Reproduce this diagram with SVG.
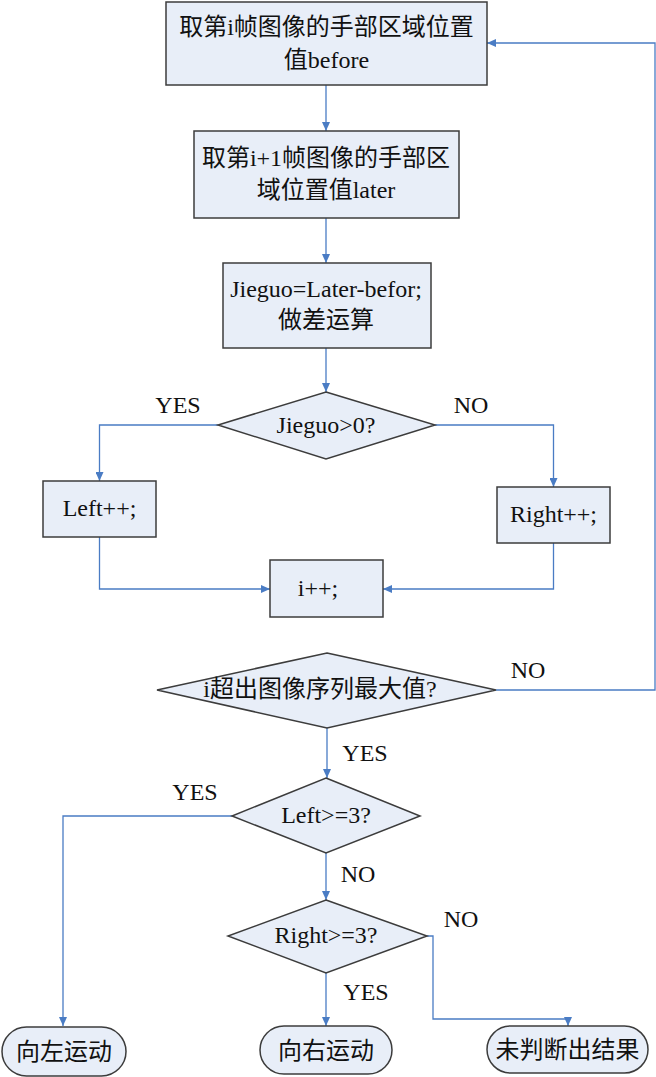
<svg xmlns="http://www.w3.org/2000/svg" width="656" height="1077" viewBox="0 0 656 1077">
<defs>
<marker id="arr" markerUnits="userSpaceOnUse" markerWidth="10" markerHeight="8" refX="9" refY="4" orient="auto">
<path d="M0,0 L9,4 L0,8 z" fill="#4A7CC4"/>
</marker>
<style>
.n{fill:#E8EEF8;stroke:#3C3C3C;stroke-width:1.5}
.t{font-family:"Liberation Serif","Noto Sans CJK SC",serif;font-size:24px;fill:#111;text-anchor:middle}
.c{fill:none;stroke:#4A7CC4;stroke-width:1.3;marker-end:url(#arr)}
.l{fill:none;stroke:#4A7CC4;stroke-width:1.3}
</style>
</defs>
<rect width="656" height="1077" fill="#fff"/>
<g id="connectors">
<path class="c" d="M326,85 V131"/>
<path class="c" d="M326,218 V263"/>
<path class="c" d="M326,348 V392"/>
<path class="c" d="M218,425 H99.5 V481"/>
<path class="c" d="M435,425 H553.5 V487"/>
<path class="c" d="M99.5,537 V589 H270"/>
<path class="c" d="M553.5,543 V589 H383"/>
<path class="c" d="M496,690 H655 V43 H487"/>
<path class="c" d="M327,728 V778"/>
<path class="c" d="M232,816 H63 V1026"/>
<path class="c" d="M326,853 V900"/>
<path class="c" d="M427,936 H433 V1019 H568 V1026"/>
<path class="c" d="M326,973 V1026"/>
</g>
<g id="box1"><rect class="n" x="166" y="2" width="321" height="83"/>
<text class="t" x="326.5" y="35">取第i帧图像的手部区域位置</text><text class="t" x="326.5" y="68">值before</text></g>
<g id="box2"><rect class="n" x="194" y="131" width="265" height="87"/>
<text class="t" x="326" y="166">取第i+1帧图像的手部区</text><text class="t" x="326" y="198">域位置值later</text></g>
<g id="box3"><rect class="n" x="223" y="263" width="208" height="85"/>
<text class="t" x="326" y="297">Jieguo=Later-befor;</text><text class="t" x="326" y="328">做差运算</text></g>
<g id="dec1"><polygon class="n" points="326,392 435,425 326,459 218,425"/>
<text class="t" x="326" y="433">Jieguo&gt;0?</text></g>
<g id="left"><rect class="n" x="43" y="481" width="113" height="56"/>
<text class="t" x="99.5" y="516">Left++;</text></g>
<g id="right"><rect class="n" x="497" y="487" width="113" height="56"/>
<text class="t" x="553.5" y="522">Right++;</text></g>
<g id="inc"><rect class="n" x="270" y="560" width="113" height="57"/>
<text class="t" x="318" y="596">i++;</text></g>
<g id="dec2"><polygon class="n" points="327,653 496,690 327,728 157,690"/>
<text class="t" x="320" y="697">i超出图像序列最大值?</text></g>
<g id="dec3"><polygon class="n" points="326,778 420,816 326,853 232,816"/>
<text class="t" x="326" y="823">Left&gt;=3?</text></g>
<g id="dec4"><polygon class="n" points="326,900 427,936 326,973 228,936"/>
<text class="t" x="326" y="943">Right&gt;=3?</text></g>
<g id="term1"><rect class="n" x="2" y="1027" width="124" height="49" rx="24.5"/>
<text class="t" x="64" y="1060">向左运动</text></g>
<g id="term2"><rect class="n" x="260" y="1026" width="132" height="48" rx="24"/>
<text class="t" x="326" y="1059">向右运动</text></g>
<g id="term3"><rect class="n" x="487" y="1026" width="161" height="47" rx="23.5"/>
<text class="t" x="567.5" y="1058">未判断出结果</text></g>
<g id="labels">
<text class="t" x="178" y="413">YES</text>
<text class="t" x="471" y="413">NO</text>
<text class="t" x="528" y="678">NO</text>
<text class="t" x="365" y="761">YES</text>
<text class="t" x="195" y="800">YES</text>
<text class="t" x="358" y="882">NO</text>
<text class="t" x="461" y="927">NO</text>
<text class="t" x="366" y="1000">YES</text>
</g>
</svg>
